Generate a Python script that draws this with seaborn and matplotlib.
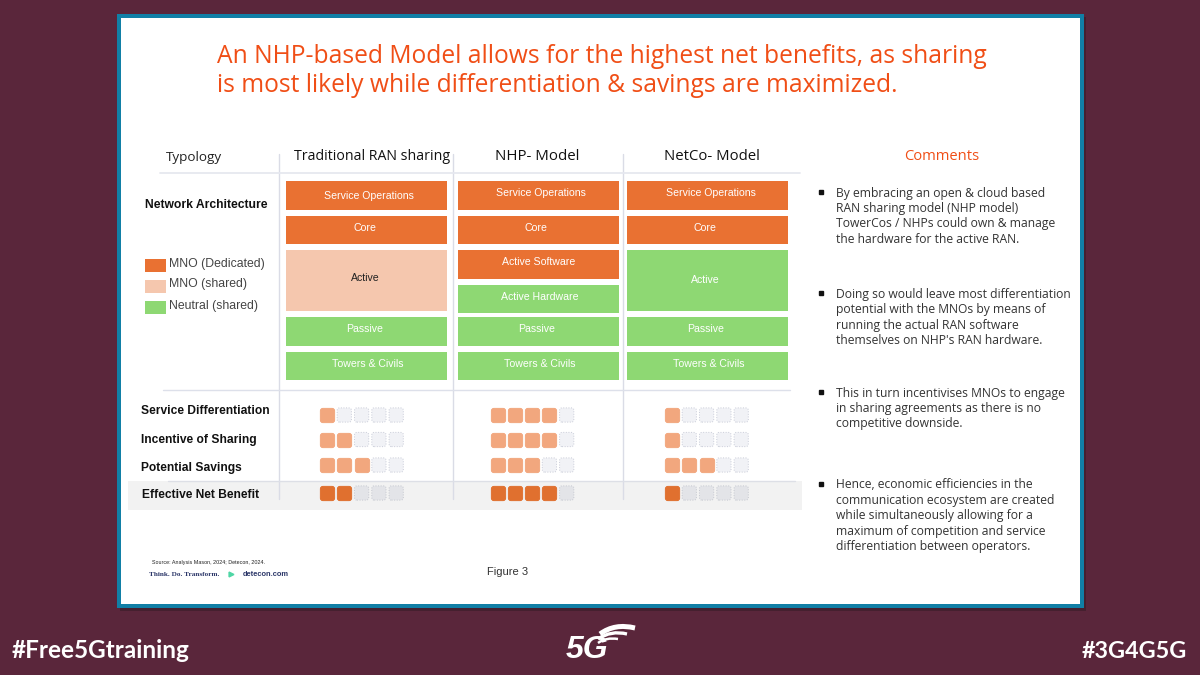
import matplotlib
matplotlib.use("Agg")
import matplotlib.pyplot as plt
import numpy as np
import pandas as pd
import seaborn as sns
from matplotlib.patches import Rectangle, PathPatch, FancyBboxPatch
from matplotlib.path import Path

sns.set_theme(style="white")

# ---------- data ----------
title_lines = ["An NHP-based Model allows for the highest net benefits, as sharing",
               "is most likely while differentiation & savings are maximized."]
models = ["Traditional RAN sharing", "NHP- Model", "NetCo- Model"]
model_label_x = [372, 537, 712]
trad_layers = ["Service Operations", "Core", "Active", "Passive", "Towers & Civils"]
trad_owner = ["ded", "ded", "shr", "neu", "neu"]
nhp_layers = ["Service Operations", "Core", "Active Software", "Active Hardware", "Passive", "Towers & Civils"]
nhp_owner = ["ded", "ded", "ded", "neu", "neu", "neu"]
netco_layers = ["Service Operations", "Core", "Active", "Passive", "Towers & Civils"]
netco_owner = ["ded", "ded", "neu", "neu", "neu"]
legend_labels = ["MNO (Dedicated)", "MNO (shared)", "Neutral (shared)"]
metrics = ["Service Differentiation", "Incentive of Sharing", "Potential Savings", "Effective Net Benefit"]
score_trad = [1, 2, 3, 2]
score_nhp = [4, 4, 3, 4]
score_netco = [1, 1, 3, 1]
score_max = 5
comments = [
    ["By embracing an open & cloud based", "RAN sharing model (NHP model)",
     "TowerCos / NHPs could own & manage", "the hardware for the active RAN."],
    ["Doing so would leave most differentiation", "potential with the MNOs by means of",
     "running the actual RAN software", "themselves on NHP's RAN hardware."],
    ["This in turn incentivises MNOs to engage", "in sharing agreements as there is no",
     "competitive downside."],
    ["Hence, economic efficiencies in the", "communication ecosystem are created",
     "while simultaneously allowing for a", "maximum of competition and service",
     "differentiation between operators."],
]

# ---------- styling / layout ----------
BG = "#5A263B"
BORDER = "#117FA6"
ORANGE_TITLE = "#F04E16"
C_DED = "#E97132"
C_SHR = "#F5C7AE"
C_NEU = "#8ED873"
FILL = {"ded": C_DED, "shr": C_SHR, "neu": C_NEU}
TXT = {"ded": "white", "shr": "#222222", "neu": "white"}
HEAD = "Open Sans"
ARIAL = "Liberation Sans"

fig = plt.figure(figsize=(12, 6.75), dpi=100, facecolor=BG)
ax = fig.add_axes([0, 0, 1, 1])
ax.set_xlim(0, 1200)
ax.set_ylim(675, 0)
ax.axis("off")

# card
ax.add_patch(Rectangle((120, 17), 966, 594, fc="#45202F", ec="none", zorder=0))
ax.add_patch(Rectangle((117, 14), 967, 594, fc=BORDER, ec="none", zorder=1))
ax.add_patch(Rectangle((121, 18), 959, 586, fc="white", ec="none", zorder=2))

# title
for line, y in zip(title_lines, [56.5, 85.5]):
    ax.text(217, y, line, color=ORANGE_TITLE, fontsize=17.75, family=HEAD, va="center", zorder=5)

# grid
ax.add_patch(Rectangle((128, 481), 674, 29, fc="#F2F2F2", ec="none", zorder=3))
for x in [279, 453, 623]:
    ax.plot([x, x], [154, 499], color="#DADCE6", lw=1, zorder=4)
ax.plot([160, 800], [173, 173], color="#E6E8EF", lw=1.3, zorder=4)
ax.plot([163, 790], [390, 390], color="#DDE0EA", lw=1, zorder=4)
ax.plot([168, 795], [481, 481], color="#DDDFE6", lw=1, zorder=4)

# headers
ax.text(166, 157, "Typology", fontsize=9.7, family=HEAD, color="#222222", va="center", zorder=5)
for name, x, fs in zip(models, model_label_x, [10.2, 10.8, 10.7]):
    ax.text(x, 157, name, fontsize=fs, family=HEAD, color="#111111", va="center", ha="center", zorder=5)
ax.text(145, 204.5, "Network Architecture", fontsize=8.75, family=ARIAL, weight="bold", color="#111111", va="center", zorder=5)

# legend
for lab, key, y in zip(legend_labels, ["ded", "shr", "neu"], [259, 280, 301]):
    ax.add_patch(Rectangle((145, y), 21, 13, fc=FILL[key], ec="none", zorder=5))
    ax.text(169, y + 4.5, lab, fontsize=8.8, family=ARIAL, color="#444444", va="center", zorder=5)

# stacks
x_left = [286, 458, 627]
x_width = [161, 161, 161]
top5 = [181, 216, 250, 317, 352]
bot5 = [210, 244, 311, 346, 380]
top6 = [181, 216, 250, 285, 317, 352]
bot6 = [210, 244, 279, 313, 346, 380]
lab_x_trad = [369, 365, 365, 365, 368]
lab_y_trad = [196, 228, 278, 329, 364]
lab_x_nhp = [541, 536, 539, 540, 537, 540]
lab_y_nhp = [193.5, 228, 262, 296.5, 329, 364]
lab_x_netco = [711, 705, 705, 706, 709]
lab_y_netco = [193.5, 228, 280, 329, 364]
stacks = [(trad_layers, trad_owner, top5, bot5, lab_x_trad, lab_y_trad),
          (nhp_layers, nhp_owner, top6, bot6, lab_x_nhp, lab_y_nhp),
          (netco_layers, netco_owner, top5, bot5, lab_x_netco, lab_y_netco)]
for xl, w, (names, owner, tops, bots, lx, ly) in zip(x_left, x_width, stacks):
    for n, o, t, b, tx, ty in zip(names, owner, tops, bots, lx, ly):
        ax.bar(xl + w / 2, b - t, width=w, bottom=t, color=FILL[o], lw=0, zorder=5)
        ax.text(tx, ty, n, color=TXT[o], fontsize=7.6,
                family=ARIAL, ha="center", va="center", zorder=6)

# metric labels
metric_y = [415, 439.5, 465, 493]
metric_lab_y = [411.5, 440.5, 467.5, 494.5]
metric_lab_x = [141, 141, 141, 142]
for m, x, y in zip(metrics, metric_lab_x, metric_lab_y):
    ax.text(x, y, m, fontsize=8.65, family=ARIAL, weight="bold", color="#111111", va="center", zorder=6)

# rating squares: rounded-square marker through seaborn
box = FancyBboxPatch((-1, -1), 2, 2, boxstyle="round,pad=0,rounding_size=0.35")
rounded = box.get_path().deepcopy()
rounded = Path(rounded.vertices * 1.0, rounded.codes)
col_start = [327, 497.5, 672]
pitch = 17.3
rows = []
for start, scores in zip(col_start, [score_trad, score_nhp, score_netco]):
    for mi, (s, y) in enumerate(zip(scores, metric_y)):
        for k in range(score_max):
            rows.append(dict(x=start + k * pitch, y=y, on=k < s, net=mi == 3))
df = pd.DataFrame(rows)
S = 105
sel = [(df.on & ~df.net, "#F2A77E", "#F2A77E", "-"),
       (df.on & df.net, "#E0702F", "#E0702F", "-"),
       (~df.on & ~df.net, "#F1F2F6", "#C9CCD8", ":"),
       (~df.on & df.net, "#E3E4E8", "#C5C8D0", ":")]
for mask, fc, ec, ls in sel:
    sns.scatterplot(data=df[mask], x="x", y="y", ax=ax, marker=rounded, s=S, color=fc,
                    edgecolor=ec, linewidth=0.7, linestyle=ls, legend=False, zorder=7)
ax.set_xlim(0, 1200)
ax.set_ylim(675, 0)
ax.axis("off")

# comments
ax.text(942, 157, "Comments", fontsize=10.6, family=HEAD, color=ORANGE_TITLE, ha="center", va="center", zorder=6)
starts = [193, 294.5, 393, 485]
for lines, y0 in zip(comments, starts):
    ax.plot([821], [y0 - 1.5], marker="s", ms=2.6, color="#111111", zorder=6)
    for i, line in enumerate(lines):
        ax.text(836, y0 + i * 15.35, line, fontsize=8.75, family=HEAD, color="#333333", va="center", zorder=6)

# footer in card
ax.text(487, 572, "Figure 3", fontsize=8, family=ARIAL, color="#333333", va="center", zorder=6)
ax.text(152, 562.5, "Source: Analysis Mason, 2024; Detecon, 2024.", fontsize=3.9, family=ARIAL, color="#222222", va="center", zorder=6)
ax.text(149, 574, "Think. Do. Transform.", fontsize=5.2, family="Liberation Serif", weight="bold", color="#2B3668", va="center", zorder=6)
ax.plot([231], [574], marker=">", ms=3.5, color="#4FD6A5", zorder=6)
ax.text(243, 574, "detecon.com", fontsize=5.4, family=ARIAL, weight="bold", color="#2B3668", va="center", zorder=6)

# slide footer
ax.text(12, 651, "#Free5Gtraining", fontsize=17.5, family="Lato", weight="bold", color="white", va="center", zorder=6)
ax.text(1187, 651, "#3G4G5G", fontsize=16.8, family="Lato", weight="bold", color="white", ha="right", va="center", zorder=6)

# 5G logo
ax.text(566, 650, "5G", fontsize=23, family="Liberation Sans", weight="bold", style="italic", color="white", va="center", zorder=6)
for (p0, p1, p2, lw) in [((600, 634), (615, 623), (635, 628), 3.6),
                         ((598, 639), (611, 630), (627, 634), 2.4),
                         ((598, 643), (606, 637), (618, 639), 1.8)]:
    path = Path([p0, p1, p2], [Path.MOVETO, Path.CURVE3, Path.CURVE3])
    ax.add_patch(PathPatch(path, fc="none", ec="white", lw=lw, capstyle="butt", zorder=6))

fig.savefig("out.png", dpi=100, facecolor=BG)
